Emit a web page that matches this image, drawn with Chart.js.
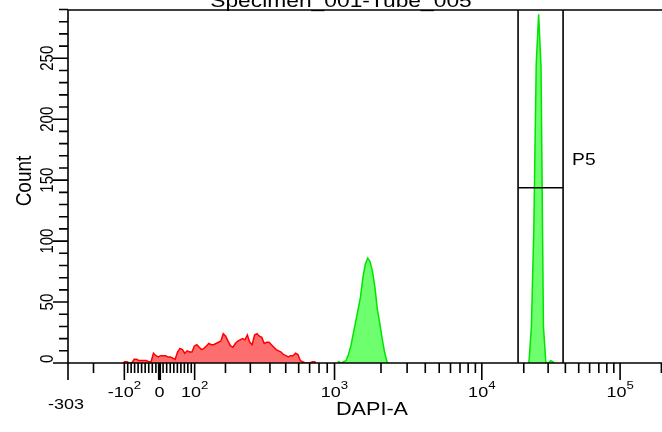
<!DOCTYPE html>
<html><head><meta charset="utf-8">
<script src="https://cdn.jsdelivr.net/npm/chart.js@4.4.1/dist/chart.umd.min.js"></script>
<style>html,body{margin:0;padding:0;background:#fff;overflow:hidden}canvas{display:block}</style>
</head><body>
<canvas id="c" width="662" height="432"></canvas>
<script>
// ----------------- data -----------------
const chartTitle = 'Specimen_001-Tube_005';
const xAxisTitle = 'DAPI-A';
const yAxisTitle = 'Count';
const gateName = 'P5';

// histogram counts per display channel (256 channels across the biexponential display)
const redStartChannel = 23;
const redCounts = [1,1,0,0,3,3,2,2,2,2,1,1,8,6,5,6,6,6,5,5,4,3,9,12,11,8,10,9,9,14,
  15,13,11,12,14,16,15,15,16,17,18,24,22,18,14,13,16,18,19,20,19,23,17,15,23,24,22,21,16,17,
  17,15,13,11,10,9,7,6,5,6,6,8,7,2,1,0,0,0,1,1];
const greenPeak1Start = 112;
const greenPeak1Counts = [1,0,1,2,7,14,24,34,44,54,70,81,86,83,75,62,44,33,20,9,1];
const greenPeak2Start = 191;
const greenPeak2Counts = [1,30,110,245,286,243,30,0,0,2,1];

// axis ticks (data values)
const xMajorTickValues = [-303, -100, 0, 100, 1000, 10000, 100000];
const xMajorTickLabels = ['-303', '-10^2', '0', '10^2', '10^3', '10^4', '10^5'];
const xMinorTickValues = [-200,-90,-80,-70,-60,-50,-40,-30,-20,-10,10,20,30,40,50,60,70,80,90,
  200,300,400,500,600,700,800,900,2000,3000,4000,5000,6000,7000,8000,9000,
  20000,30000,40000,50000,60000,70000,80000,90000,200000];
const yMajorTickValues = [0, 50, 100, 150, 200, 250];
const yMajorTickLabels = ['0', '50', '100', '150', '200', '250'];
const yMinorTickValues = [10,20,30,40,60,70,80,90,110,120,130,140,160,170,180,190,210,220,230,240,260,270,280,290];

// gate P5 (interval gate) and axis ranges
const gateRange = [18200, 38500];
const gateLevel = 143.8;
const yMaxCount = 289.6;
const xMaxValue = 202000;

// biexponential (logicle) display parameters
const LOGICLE_T = 293300, LOGICLE_W = 0.668, LOGICLE_M = 4.5, CHANNELS = 256;

// ----------------- logicle transform -----------------
const lg = (function(){
  const w = LOGICLE_W * Math.LN10, m = LOGICLE_M * Math.LN10;
  let lo = 1.000001, hi = 100;
  for (let i = 0; i < 200; i++) {
    const mid = (lo + hi) / 2;
    const f = 2 * mid * Math.log(mid) / (mid + 1);
    if (f < w) lo = mid; else hi = mid;
  }
  const p = (lo + hi) / 2;
  const C = LOGICLE_T * Math.exp(-(m - w));
  const S = u => C * (Math.exp(u) - p * p * Math.exp(-u / p) + p * p - 1);
  return { w, m, p, C, S };
})();
function channelOf(v) {
  const a = Math.abs(v);
  let lo = 0, hi = lg.m + 5;
  for (let i = 0; i < 100; i++) {
    const mid = (lo + hi) / 2;
    if (lg.S(mid) < a) lo = mid; else hi = mid;
  }
  const u = (lo + hi) / 2;
  const y = v >= 0 ? lg.w + u : lg.w - u;
  return y / lg.m * CHANNELS;
}

// histogram outline through bin centres
function histPoints(start, counts) {
  const pts = [{ x: start, y: 0 }];
  counts.forEach((c, i) => pts.push({ x: start + i + 0.5, y: c }));
  pts.push({ x: start + counts.length, y: 0 });
  return pts;
}

// ----------------- drawing helpers -----------------
const TEXT_SX = 1.2;
const FONT = '"Liberation Sans", Arial, Helvetica, sans-serif';
function textWidth(ctx, s, size) { ctx.font = size + 'px ' + FONT; return ctx.measureText(s).width * TEXT_SX; }
function drawText(ctx, s, x, y, size, align, baseline, rot) {
  ctx.save();
  ctx.translate(x, y);
  ctx.scale(TEXT_SX, 1);
  if (rot) ctx.rotate(rot);
  ctx.font = size + 'px ' + FONT;
  ctx.textAlign = align; ctx.textBaseline = baseline;
  ctx.fillStyle = '#000';
  ctx.fillText(s, 0, 0);
  ctx.restore();
}
function drawPowerLabel(ctx, label, cx, baseY, size, supSize) {
  const parts = label.split('^');
  if (parts.length === 1) {
    drawText(ctx, label, cx, baseY, size, 'center', 'alphabetic');
    return;
  }
  const wb = textWidth(ctx, parts[0], size), we = textWidth(ctx, parts[1], supSize);
  const x0 = cx - (wb + we) / 2;
  drawText(ctx, parts[0], x0, baseY, size, 'left', 'alphabetic');
  drawText(ctx, parts[1], x0 + wb, baseY - 8, supSize, 'left', 'alphabetic');
}

const facsPlugin = {
  id: 'facsAxes',
  beforeDraw(chart) {
    const ctx = chart.ctx;
    ctx.save(); ctx.fillStyle = '#fff'; ctx.fillRect(0, 0, chart.width, chart.height); ctx.restore();
  },
  afterDatasetsDraw(chart) {
    const ctx = chart.ctx, xs = chart.scales.x, ys = chart.scales.y, a = chart.chartArea;
    ctx.save();
    ctx.strokeStyle = '#000';
    ctx.lineWidth = 1.6;
    // gate P5
    const g0 = xs.getPixelForValue(channelOf(gateRange[0]));
    const g1 = xs.getPixelForValue(channelOf(gateRange[1]));
    const gy = ys.getPixelForValue(gateLevel);
    ctx.beginPath();
    ctx.moveTo(g0, a.top); ctx.lineTo(g0, a.bottom);
    ctx.moveTo(g1, a.top); ctx.lineTo(g1, a.bottom);
    ctx.moveTo(g0, gy); ctx.lineTo(g1, gy);
    ctx.stroke();
    drawText(ctx, gateName, g1 + 9, 165, 16, 'left', 'alphabetic');

    // frame
    ctx.beginPath();
    ctx.moveTo(a.left, a.top); ctx.lineTo(a.right, a.top);
    ctx.moveTo(a.left, a.top); ctx.lineTo(a.left, a.bottom);
    ctx.moveTo(a.left, a.bottom); ctx.lineTo(a.right + 1, a.bottom);
    ctx.stroke();

    // y ticks
    ctx.beginPath();
    yMinorTickValues.forEach(v => {
      const py = ys.getPixelForValue(v);
      if (py < a.top - 1) return;
      ctx.moveTo(a.left - 9, py); ctx.lineTo(a.left, py);
    });
    yMajorTickValues.forEach(v => {
      const py = ys.getPixelForValue(v);
      ctx.moveTo(a.left - 15, py); ctx.lineTo(a.left, py);
    });
    ctx.stroke();
    yMajorTickLabels.forEach((lab, i) => {
      const py = ys.getPixelForValue(yMajorTickValues[i]);
      const L = textWidth(ctx, lab, 15) / TEXT_SX;
      const cy = Math.min(py, a.bottom - L / 2);
      drawText(ctx, lab, a.left - 15, cy, 15, 'center', 'alphabetic', -Math.PI / 2);
    });

    // x ticks
    ctx.beginPath();
    xMinorTickValues.forEach(v => {
      const px = xs.getPixelForValue(channelOf(v));
      if (px > a.right + 1) return;
      ctx.moveTo(px, a.bottom); ctx.lineTo(px, a.bottom + 10);
    });
    xMajorTickValues.forEach(v => {
      if (v === 0) return;
      const px = xs.getPixelForValue(channelOf(v));
      ctx.moveTo(px, a.bottom); ctx.lineTo(px, a.bottom + 17);
    });
    ctx.stroke();
    ctx.beginPath();
    ctx.lineWidth = 3.2;
    const p0 = xs.getPixelForValue(channelOf(0));
    ctx.moveTo(p0, a.bottom); ctx.lineTo(p0, a.bottom + 17);
    ctx.stroke();
    xMajorTickLabels.forEach((lab, i) => {
      const v = xMajorTickValues[i];
      const px = xs.getPixelForValue(channelOf(v));
      if (i === 0) drawText(ctx, lab, px - 2, 409, 15, 'center', 'alphabetic');
      else drawPowerLabel(ctx, lab, px, 397, 15, 11);
    });

    // titles
    drawText(ctx, xAxisTitle, 372, 415, 18, 'center', 'alphabetic');
    drawText(ctx, yAxisTitle, 31, 181, 19, 'center', 'alphabetic', -Math.PI / 2);
    drawText(ctx, chartTitle, 341, 6.5, 19, 'center', 'alphabetic');
    ctx.restore();
  }
};

const redFill = 'rgba(255,0,0,0.57)', redLine = '#ff0000';
const greenFill = 'rgba(0,255,0,0.57)', greenLine = '#00e400';
function histDataset(label, start, counts, fill, line) {
  return {
    label, data: histPoints(start, counts), fill: 'origin',
    backgroundColor: fill, borderColor: line, borderWidth: 1.5, pointRadius: 0, tension: 0
  };
}

new Chart(document.getElementById('c'), {
  type: 'line',
  data: {
    datasets: [
      histDataset('Red population', redStartChannel, redCounts, redFill, redLine),
      histDataset('Green population (1)', greenPeak1Start, greenPeak1Counts, greenFill, greenLine),
      histDataset('Green population (2)', greenPeak2Start, greenPeak2Counts, greenFill, greenLine)
    ]
  },
  options: {
    responsive: false,
    animation: false,
    devicePixelRatio: 1,
    layout: { padding: { left: 68, right: 0, top: 10, bottom: 69 } },
    plugins: { legend: { display: false }, title: { display: false }, tooltip: { enabled: false } },
    scales: {
      x: { type: 'linear', min: channelOf(-303), max: channelOf(xMaxValue), display: false },
      y: { type: 'linear', min: 0, max: yMaxCount, display: false }
    }
  },
  plugins: [facsPlugin]
});
</script>
</body></html>
